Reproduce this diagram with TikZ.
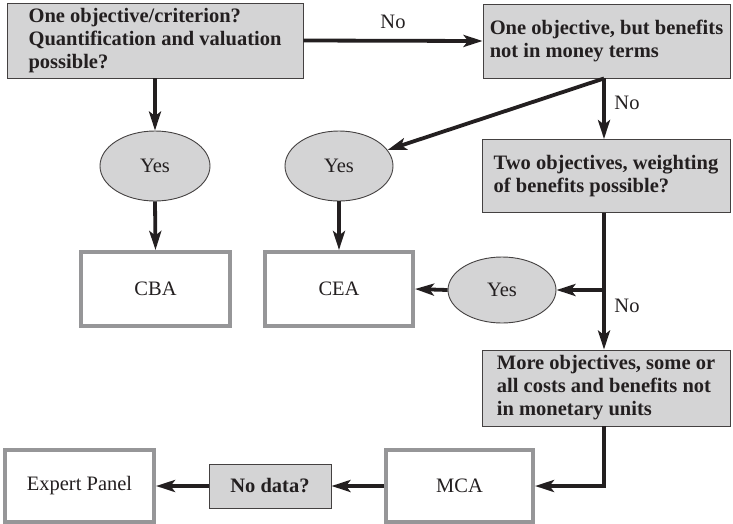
\documentclass[tikz,border=0pt]{standalone}
\usepackage{fontspec}
\setmainfont{Liberation Serif}
\usetikzlibrary{arrows.meta,shapes.geometric,calc}
\definecolor{boxgray}{RGB}{212,212,213}
\definecolor{inkblack}{RGB}{35,31,32}
\definecolor{framegray}{RGB}{150,150,152}
\begin{document}
\begin{tikzpicture}[x=1pt,y=-1pt,
  font=\fontsize{20.5}{23}\selectfont, text=inkblack,
  question/.style={draw=inkblack!85, line width=0.9pt, fill=boxgray, rectangle,
    align=left, font=\fontsize{20.5}{23}\selectfont\bfseries, inner sep=0pt},
  answer/.style={draw=inkblack!85, line width=0.9pt, fill=boxgray, ellipse, inner sep=0pt},
  method/.style={draw=framegray, line width=4pt, fill=white, rectangle, inner sep=0pt},
  flow/.style={draw=inkblack, line width=3.8pt,
    -{Stealth[length=19pt,width=12pt,inset=4.5pt]}},
  tag/.style={inner sep=0pt}
]
\useasboundingbox (0,0) rectangle (733,523);

% decision boxes
\node[question, minimum width=296, minimum height=75] (A) at (155,40.5)
  {One objective/criterion?\\Quantification and valuation\\possible?};
\node[question, minimum width=247, minimum height=74] (B) at (606.5,41)
  {One objective, but benefits\\not in money terms};
\node[question, minimum width=248, minimum height=73] (C) at (606,176)
  {Two objectives, weighting\\of benefits possible?};
\node[question, minimum width=248, minimum height=76] (D) at (606,388)
  {More objectives, some or\\all costs and benefits not\\in monetary units};
\node[question, minimum width=122, minimum height=44] (nd) at (270,486) {No data?};

% answers
\node[answer, minimum width=110, minimum height=70] (y1) at (155,166) {Yes};
\node[answer, minimum width=108, minimum height=70] (y2) at (339,166) {Yes};
\node[answer, minimum width=108, minimum height=66] (y3) at (502,290) {Yes};

% methods
\node[method, minimum width=149, minimum height=74] (cba) at (155.5,289) {CBA};
\node[method, minimum width=148, minimum height=74] (cea) at (339,289) {CEA};
\node[method, minimum width=147, minimum height=72] (mca) at (459.5,486) {MCA};
\node[method, minimum width=149, minimum height=72] (ep) at (79.5,486) {Expert Panel};

% main trunk on the right
\coordinate (trunk) at (604,0);
\coordinate (bfoot) at (B.south -| trunk);
\coordinate (cfoot) at (C.south -| trunk);
\coordinate (dfoot) at (D.south -| trunk);
\coordinate (fork) at (y3 -| trunk);

% connectors
\draw[flow] (A.east) -- node[tag, above=10pt] (no1) {No} (B.west);
\draw[flow] (A.south) -- (y1.north);
\draw[flow] (y1.south) -- (cba.north);
\draw[flow] (bfoot) -- (C.north -| trunk);
\draw[flow] (bfoot) -- (y2);
\draw[flow] (y2.south) -- (cea.north);
\draw[flow] (cfoot) -- (D.north -| trunk);
\draw[flow] (fork) -- (y3.east);
\draw[flow] (y3.west) -- (cea.east);
\draw[flow] (dfoot) |- (mca.east);
\draw[flow] (mca.west) -- (nd.east);
\draw[flow] (nd.west) -- (ep.east);

% branch labels
\node[tag] (no2) at (627,103) {No};
\node[tag] (no3) at (627,306) {No};
\end{tikzpicture}
\end{document}
